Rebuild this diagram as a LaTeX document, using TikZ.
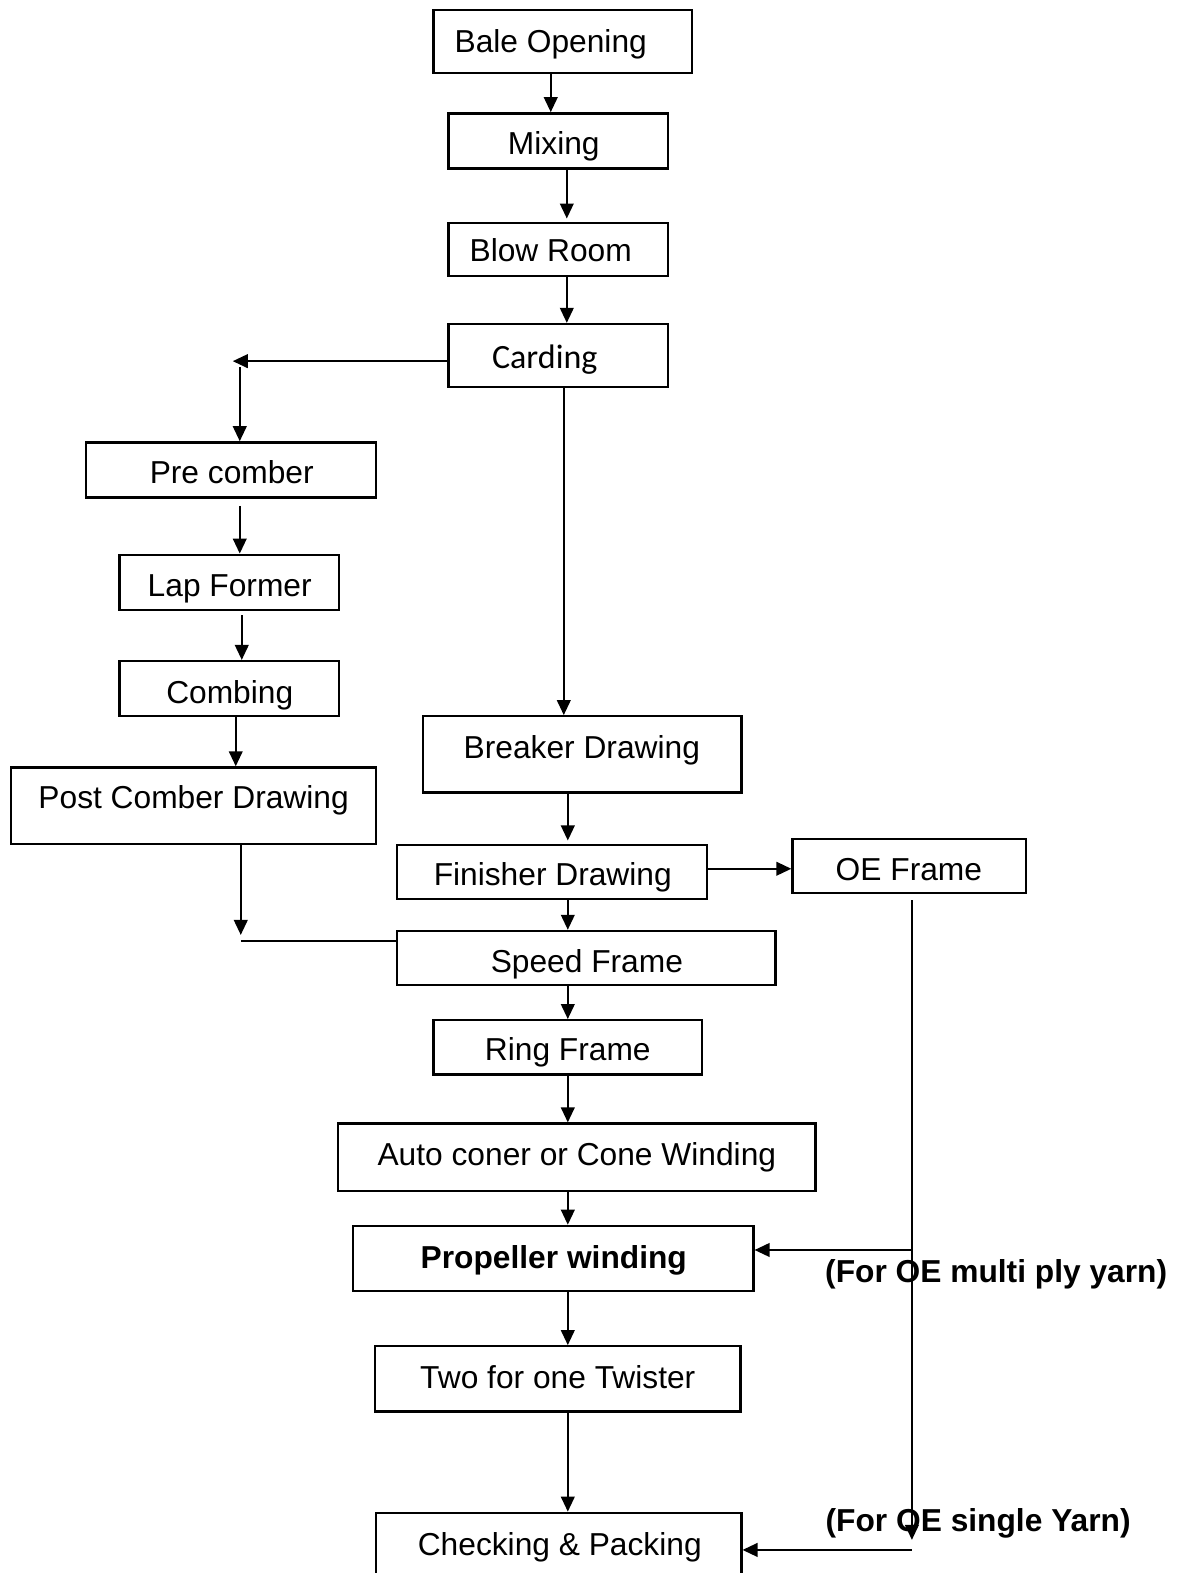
\documentclass[tikz,border=0pt]{standalone}
\usepackage{fontspec}
\setmainfont{Liberation Sans}
\newfontfamily\carlito{Carlito}
\usetikzlibrary{arrows.meta}
\begin{document}
\begin{tikzpicture}[x=0.02cm,y=-0.02cm,
  box/.style={draw,line width=1.3pt,inner sep=0pt},
  txt/.style={inner sep=0pt,yshift=-0.12cm,font=\fontsize{18}{20}\selectfont,text height=0.716em,text depth=0pt},
  btxt/.style={txt,font=\fontsize{18}{20}\selectfont\bfseries},
  arr/.style={line width=1.3pt,-{Triangle[length=0.3cm,width=0.27cm]}},
  ln/.style={line width=1.3pt}]
\useasboundingbox (0,0) rectangle (1179,1568);
% boxes
\node[box,minimum width=258*0.02cm,minimum height=63*0.02cm] (bale) at (561,41.5) {};
\node[box,minimum width=219*0.02cm,minimum height=55*0.02cm] (mixing) at (556.5,140.5) {};
\node[box,minimum width=219*0.02cm,minimum height=53*0.02cm] (blow) at (556.5,248.5) {};
\node[box,minimum width=219*0.02cm,minimum height=63*0.02cm] (carding) at (556.5,354.5) {};
\node[box,minimum width=289*0.02cm,minimum height=55*0.02cm] (pre) at (230.5,468.5) {};
\node[box,minimum width=219*0.02cm,minimum height=55*0.02cm] (lap) at (228.5,580.5) {};
\node[box,minimum width=219*0.02cm,minimum height=55*0.02cm] (combing) at (228.5,686.5) {};
\node[box,minimum width=364*0.02cm,minimum height=76*0.02cm] (post) at (193,803) {};
\node[box,minimum width=317*0.02cm,minimum height=76*0.02cm] (breaker) at (580.5,752) {};
\node[box,minimum width=309*0.02cm,minimum height=54*0.02cm] (finisher) at (550.5,869) {};
\node[box,minimum width=233*0.02cm,minimum height=54*0.02cm] (oe) at (906.5,863) {};
\node[box,minimum width=377*0.02cm,minimum height=54*0.02cm] (speed) at (584.5,955) {};
\node[box,minimum width=268*0.02cm,minimum height=54*0.02cm] (ring) at (566,1044) {};
\node[box,minimum width=476*0.02cm,minimum height=67*0.02cm] (auto) at (575,1153.5) {};
\node[box,minimum width=399*0.02cm,minimum height=65*0.02cm] (prop) at (551.5,1254.5) {};
\node[box,minimum width=364*0.02cm,minimum height=65*0.02cm] (two) at (556,1374.5) {};
\node[box,minimum width=364*0.02cm,minimum height=72*0.02cm] (check) at (557,1544) {};
% texts
\node[txt] (bale-t) at (549,40) {Bale Opening};
\node[txt] (mixing-t) at (552,142) {Mixing};
\node[txt] (blow-t) at (549,248) {Blow Room};
\node[txt,font=\fontsize{19.3}{21}\selectfont\carlito,text height=0.644em,yshift=-0.02cm] (carding-t) at (543,355) {Carding};
\node[txt] (pre-t) at (231,470) {Pre comber};
\node[txt] (lap-t) at (229,582) {Lap Former};
\node[txt] (combing-t) at (229,689) {Combing};
\node[txt] (post-t) at (193,794) {Post Comber Drawing};
\node[txt] (breaker-t) at (580,744) {Breaker Drawing};
\node[txt] (finisher-t) at (551,870) {Finisher Drawing};
\node[txt] (oe-t) at (906,865) {OE Frame};
\node[txt] (speed-t) at (585,957) {Speed Frame};
\node[txt] (ring-t) at (566,1045) {Ring Frame};
\node[txt] (auto-t) at (575,1149) {Auto coner or Cone Winding};
\node[btxt] (prop-t) at (552,1252) {Propeller winding};
\node[txt] (two-t) at (556,1372) {Two for one Twister};
\node[txt] (check-t) at (558,1538) {Checking \& Packing};
\node[btxt] (multi-t) at (993,1266) {(For OE multi ply yarn)};
\node[btxt] (single-t) at (975,1514) {(For OE single Yarn)};
% column coordinates
\coordinate (xa) at (549,0);
\coordinate (xb) at (565,0);
\coordinate (xc) at (562,0);
\coordinate (xd) at (566,0);
\coordinate (xe) at (239,0);
\coordinate (xf) at (241,0);
\coordinate (xg) at (235,0);
\coordinate (xh) at (240,0);
\coordinate (xo) at (909,0);
\coordinate (cl) at (232,360);
\coordinate (cl2) at (239,366);
\coordinate (pd) at (240,932);
\coordinate (pj) at (240,938);
\coordinate (ym) at (0,1246);
\coordinate (ys) at (0,1545);
\coordinate (od) at (909,1535);
% connectors
\draw[arr] (bale.south -| xa) -- (mixing.north -| xa);
\draw[arr] (mixing.south -| xb) -- ([yshift=0.06cm]blow.north -| xb);
\draw[arr] (blow.south -| xb) -- (carding.north -| xb);
\draw[arr] (carding.west |- cl) -- (cl);
\draw[arr] (cl2) -- (pre.north -| cl2);
\draw[arr,shorten <=7*0.02cm] (pre.south -| xe) -- (lap.north -| xe);
\draw[arr,shorten <=4*0.02cm] (lap.south -| xf) -- (combing.north -| xf);
\draw[arr] (combing.south -| xg) -- (post.north -| xg);
\draw[arr] (post.south -| xh) -- (pd);
\draw[ln] (pj) -- (speed.west |- pj);
\draw[arr] (carding.south -| xc) -- (breaker.north -| xc);
\draw[arr] (breaker.south -| xd) -- ([yshift=0.06cm]finisher.north -| xd);
\draw[arr] (finisher.east |- oe.west) ++(0,3) -- (oe.west |- 0,866);
\draw[arr] (finisher.south -| xd) -- (speed.north -| xd);
\draw[arr] (speed.south -| xd) -- (ring.north -| xd);
\draw[arr] (ring.south -| xd) -- (auto.north -| xd);
\draw[arr] (auto.south -| xd) -- (prop.north -| xd);
\draw[arr] (prop.south -| xd) -- (two.north -| xd);
\draw[arr] (two.south -| xd) -- (check.north -| xd);
\draw[arr,shorten <=6*0.02cm] (oe.south -| xo) -- (od);
\draw[arr] (xo |- ym) -- (prop.east |- ym);
\draw[arr] (xo |- ys) -- (check.east |- ys);
\end{tikzpicture}
\end{document}
